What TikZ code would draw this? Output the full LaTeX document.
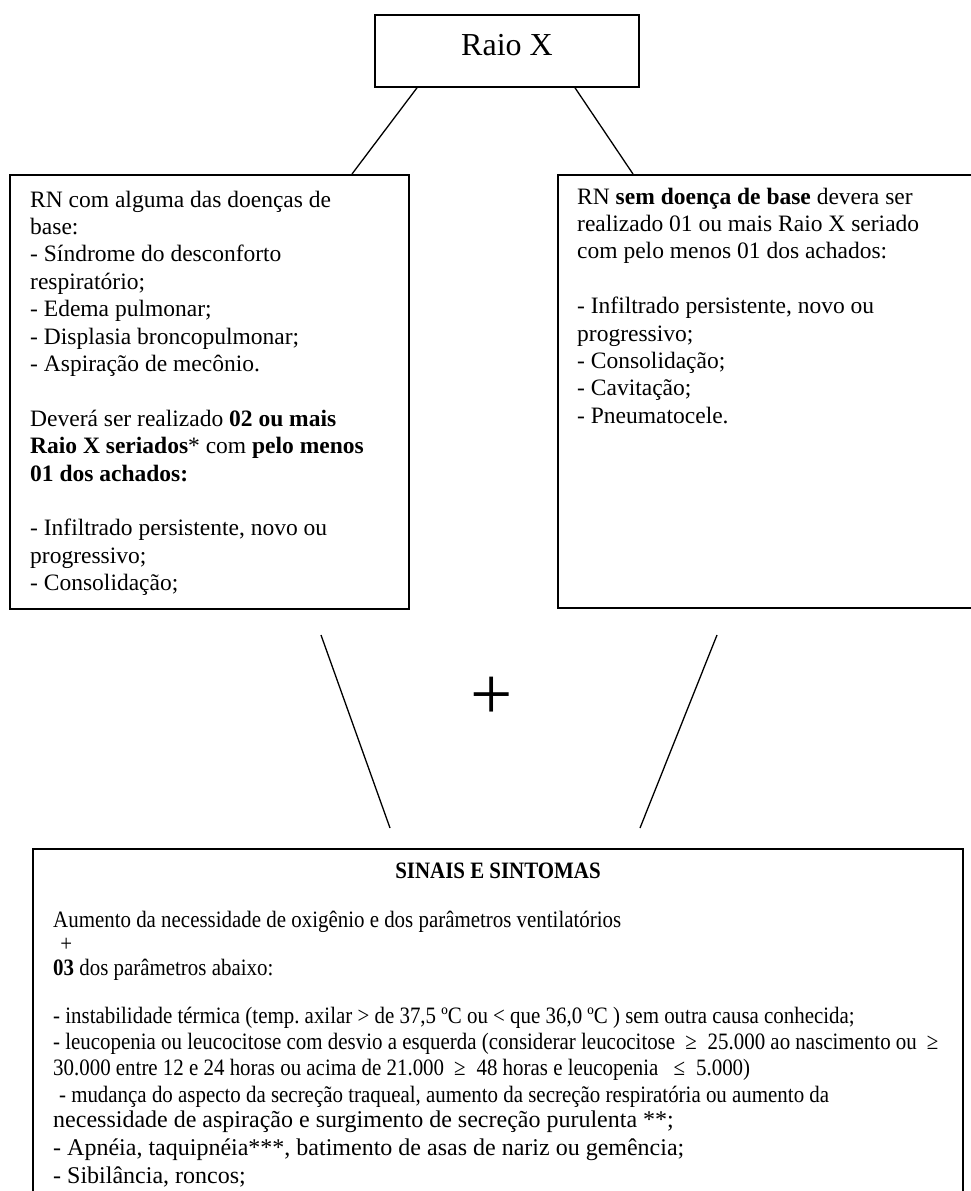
\documentclass[tikz,border=0pt]{standalone}
\usepackage{fontspec}
\setmainfont{Liberation Serif}
\newfontfamily\condfont[FakeStretch=0.89]{Liberation Serif}
\usetikzlibrary{calc}
\newcommand\wsym[1]{\hspace{10pt}#1\hspace{11pt}}
\frenchspacing
\begin{document}
\frenchspacing
\begin{tikzpicture}[x=1pt,y=-1pt,
  box/.style={draw, line width=1.8pt, inner sep=0pt, anchor=north west},
  link/.style={line width=1.3pt},
  body/.style={inner sep=0pt, anchor=base west, align=flush left, text width=#1,
    font=\frenchspacing\fontsize{23.5}{27.4}\selectfont},
  condbody/.style={inner sep=0pt, anchor=base west, align=flush left, text width=#1,
    font=\frenchspacing\condfont\fontsize{23.5}{24}\selectfont}]
\useasboundingbox (0,0) rectangle (971,1191);
\clip (0,0) rectangle (971,1191);
\fill[white] (0,0) rectangle (971,1191);

% boxes
\node[box, minimum width=264pt, minimum height=72pt] (raio) at (374,14) {};
\node[font=\fontsize{32}{38}\selectfont, inner sep=0pt] (raiotxt) at (507,45) {Raio X};

\node[box, minimum width=399pt, minimum height=434pt] (left) at (9,174) {};
\node[box, minimum width=440pt, minimum height=433pt] (right) at (557,174) {};
\node[box, minimum width=930pt, minimum height=400pt] (bottom) at (32,848) {};

% connectors
\draw[link] ($(raio.south west)+(43,0)$) -- ($(left.north west)+(343,0)$);
\draw[link] ($(raio.south west)+(201,0)$) -- ($(right.north west)+(76,0)$);
\coordinate (la) at (321,635);
\coordinate (lb) at (390,828);
\coordinate (ra) at (717,635);
\coordinate (rb) at (640,828);
\draw[link] (la) -- (lb);
\draw[link] (ra) -- (rb);
\node[font=\fontsize{75}{80}\selectfont, inner sep=0pt] (plus) at (492,698) {+};

% left text
\node[body=380pt] (lefttxt) at (30,207) {RN com alguma das doenças de\\
base:\\
- Síndrome do desconforto\\
respiratório;\\
- Edema pulmonar;\\
- Displasia broncopulmonar;\\
- Aspiração de mecônio.\\
\mbox{}\\
Deverá ser realizado \textbf{02 ou mais}\\
\textbf{Raio X seriados}* com \textbf{pelo menos}\\
\textbf{01 dos achados:}\\
\mbox{}\\
- Infiltrado persistente, novo ou\\
progressivo;\\
- Consolidação;};

% right text
\node[body=390pt] (righttxt) at (577,204) {RN \textbf{sem doença de base} devera ser\\
realizado 01 ou mais Raio X seriado\\
com pelo menos 01 dos achados:\\
\mbox{}\\
- Infiltrado persistente, novo ou\\
progressivo;\\
- Consolidação;\\
- Cavitação;\\
- Pneumatocele.};

% bottom text
\node[inner sep=0pt, anchor=base, font=\condfont\fontsize{23.5}{25}\selectfont\bfseries] (title) at (498,878) {SINAIS E SINTOMAS};
\node[condbody=950pt] (condtop) at (53,927) {Aumento da necessidade de oxigênio e dos parâmetros ventilatórios\\
\hspace*{0.3em}+\\
\textbf{03} dos parâmetros abaixo:};
\node[condbody=950pt, font=\frenchspacing\condfont\fontsize{23.5}{26.4}\selectfont] (condlist) at (53,1023) {- instabilidade térmica (temp. axilar > de 37,5 ºC ou < que 36,0 ºC ) sem outra causa conhecida;\\
- leucopenia ou leucocitose com desvio a esquerda (considerar leucocitose\wsym{≥}25.000 ao nascimento ou\wsym{≥}\\
30.000 entre 12 e 24 horas ou acima de 21.000\wsym{≥}48 horas e leucopenia \wsym{≤}5.000)\\
\hspace*{0.25em}- mudança do aspecto da secreção traqueal, aumento da secreção respiratória ou aumento da};
\node[body=900pt, font=\frenchspacing\fontsize{24}{28}\selectfont] (normtxt) at (53,1127) {necessidade de aspiração e surgimento de secreção purulenta **;\\
- Apnéia, taquipnéia***, batimento de asas de nariz ou gemência;\\
- Sibilância, roncos;};
\end{tikzpicture}
\end{document}
